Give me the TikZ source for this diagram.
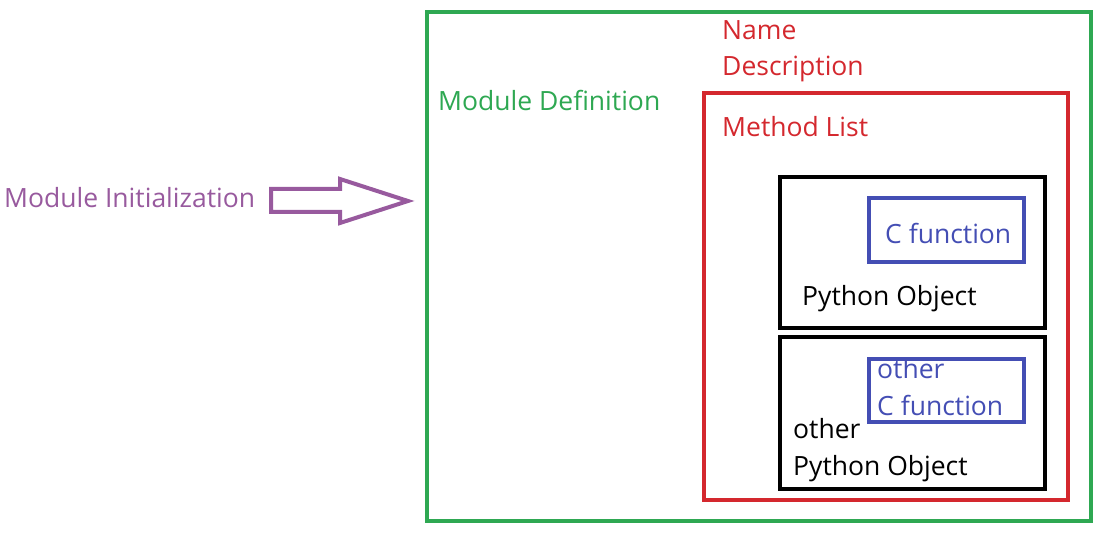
\documentclass[tikz,border=0pt]{standalone}
\usepackage{fontspec}
\setmainfont{Open Sans}
\definecolor{cgreen}{RGB}{46,168,82}
\definecolor{cred}{RGB}{212,40,46}
\definecolor{cblue}{RGB}{68,78,180}
\definecolor{cpurple}{RGB}{152,90,158}
\begin{document}
\begin{tikzpicture}[x=1pt,y=-1pt,
  box/.style={draw,line width=4pt,inner sep=0pt,outer sep=0pt},
  lbl/.style={anchor=west,inner sep=0pt,text height=19pt,text depth=0pt,font=\fontsize{26.5}{37}\selectfont}]
\useasboundingbox (0,0) rectangle (1120,537);
\node[box,cgreen,minimum width=664pt,minimum height=509pt] (def) at (759,266.5) {};
\node[box,cred,minimum width=364pt,minimum height=407pt] (meth) at (886,296.5) {};
\node[box,black,minimum width=265pt,minimum height=151pt] (po1) at (912.5,252.5) {};
\node[box,black,minimum width=265pt,minimum height=152pt] (po2) at (912.5,413) {};
\node[box,cblue,minimum width=155pt,minimum height=64pt] (cf1) at (946.5,230) {};
\node[box,cblue,minimum width=155pt,minimum height=63pt] (cf2) at (946.5,390.5) {};
\node[lbl,text=cpurple] (init) at (4,198) {Module Initialization};
\node[lbl,text=cgreen] (deflbl) at (438,101) {Module Definition};
\node[lbl,text=cred] (name) at (722,30) {Name};
\node[lbl,text=cred] (desc) at (722,66) {Description};
\node[lbl,text=cred] (ml) at (722,127) {Method List};
\node[lbl,text=cblue] (cf1t) at (885,234) {C function};
\node[lbl] (po1t) at (802,296) {Python Object};
\node[lbl,text=cblue] (cf2a) at (877,369) {other};
\node[lbl,text=cblue] (cf2b) at (877,406) {C function};
\node[lbl] (po2a) at (793,429) {other};
\node[lbl] (po2b) at (793,466) {Python Object};
\draw[cpurple,line width=4pt,line join=miter]
  (271,189) -- (340,189) -- (340,179) -- (408,201) -- (340,223) -- (340,212) -- (271,212) -- cycle;
\end{tikzpicture}
\end{document}
